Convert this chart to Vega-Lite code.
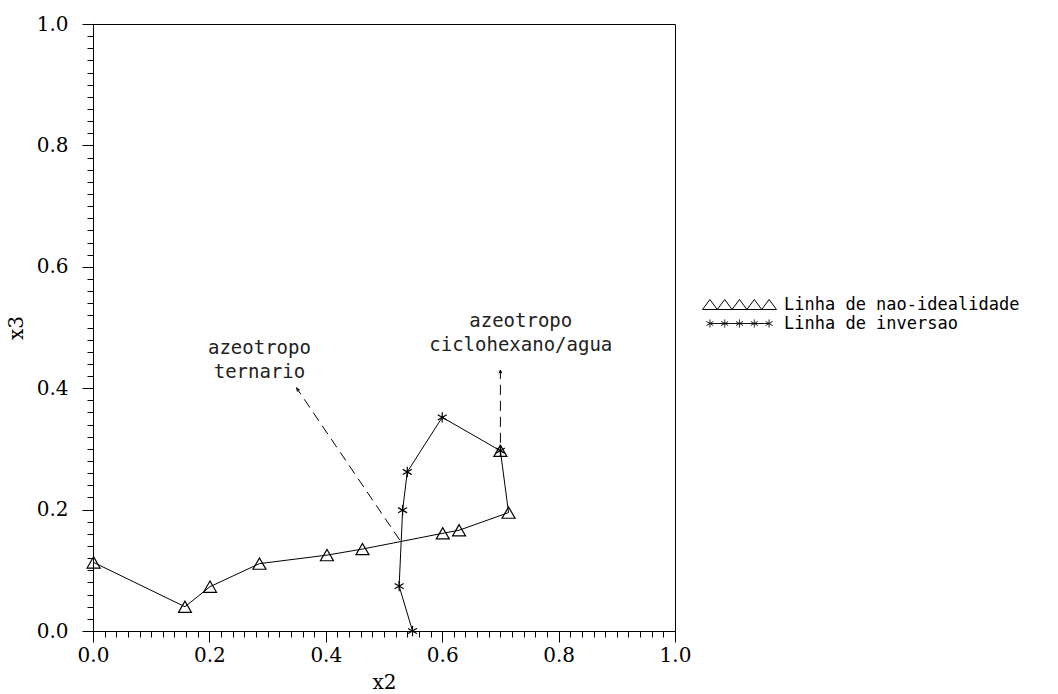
{
  "$schema": "https://vega.github.io/schema/vega-lite/v6.json",
  "width": 582,
  "height": 607,
  "autosize": {"type": "none"},
  "padding": {"left": 93, "top": 24, "right": 383, "bottom": 63},
  "background": "white",
  "datasets": {
    "curvas": [
      {"serie": "Linha de nao-idealidade", "ord": 1, "x2": 0.001, "x3": 0.113},
      {"serie": "Linha de nao-idealidade", "ord": 2, "x2": 0.158, "x3": 0.040},
      {"serie": "Linha de nao-idealidade", "ord": 3, "x2": 0.201, "x3": 0.073},
      {"serie": "Linha de nao-idealidade", "ord": 4, "x2": 0.286, "x3": 0.111},
      {"serie": "Linha de nao-idealidade", "ord": 5, "x2": 0.402, "x3": 0.125},
      {"serie": "Linha de nao-idealidade", "ord": 6, "x2": 0.463, "x3": 0.135},
      {"serie": "Linha de nao-idealidade", "ord": 7, "x2": 0.601, "x3": 0.161},
      {"serie": "Linha de nao-idealidade", "ord": 8, "x2": 0.629, "x3": 0.166},
      {"serie": "Linha de nao-idealidade", "ord": 9, "x2": 0.714, "x3": 0.195},
      {"serie": "Linha de nao-idealidade", "ord": 10, "x2": 0.700, "x3": 0.297},
      {"serie": "Linha de inversao", "ord": 1, "x2": 0.549, "x3": 0.000},
      {"serie": "Linha de inversao", "ord": 2, "x2": 0.526, "x3": 0.074},
      {"serie": "Linha de inversao", "ord": 3, "x2": 0.532, "x3": 0.199},
      {"serie": "Linha de inversao", "ord": 4, "x2": 0.540, "x3": 0.262},
      {"serie": "Linha de inversao", "ord": 5, "x2": 0.600, "x3": 0.352},
      {"serie": "Linha de inversao", "ord": 6, "x2": 0.700, "x3": 0.297}
    ],
    "setas": [
      {"id": "ternario", "xa": 0.527, "ya": 0.150, "xb": 0.350, "yb": 0.400},
      {"id": "ciclohexano", "xa": 0.700, "ya": 0.310, "xb": 0.700, "yb": 0.430}
    ],
    "notas": [
      {"x": 0.286, "y": 0.466, "texto": "azeotropo"},
      {"x": 0.286, "y": 0.427, "texto": "ternario"},
      {"x": 0.735, "y": 0.510, "texto": "azeotropo"},
      {"x": 0.735, "y": 0.471, "texto": "ciclohexano/agua"}
    ]
  },
  "encoding": {
    "x": {
      "field": "x2",
      "type": "quantitative",
      "scale": {"domain": [0, 1], "nice": false, "zero": false},
      "axis": {
        "title": "x2",
        "values": [0, 0.02, 0.04, 0.06, 0.08, 0.1, 0.12, 0.14, 0.16, 0.18, 0.2, 0.22, 0.24, 0.26, 0.28, 0.3, 0.32, 0.34, 0.36, 0.38, 0.4, 0.42, 0.44, 0.46, 0.48, 0.5, 0.52, 0.54, 0.56, 0.58, 0.6, 0.62, 0.64, 0.66, 0.68, 0.7, 0.72, 0.74, 0.76, 0.78, 0.8, 0.82, 0.84, 0.86, 0.88, 0.9, 0.92, 0.94, 0.96, 0.98, 1],
        "labelExpr": "abs(datum.value*5 - round(datum.value*5)) < 0.001 ? format(datum.value, '.1f') : ''",
        "tickSize": {"condition": {"test": "abs(datum.value*5 - round(datum.value*5)) < 0.001", "value": 11}, "value": 6},
        "labelPadding": 3,
        "titlePadding": 7
      }
    },
    "y": {
      "field": "x3",
      "type": "quantitative",
      "scale": {"domain": [0, 1], "nice": false, "zero": false},
      "axis": {
        "title": "x3",
        "values": [0, 0.02, 0.04, 0.06, 0.08, 0.1, 0.12, 0.14, 0.16, 0.18, 0.2, 0.22, 0.24, 0.26, 0.28, 0.3, 0.32, 0.34, 0.36, 0.38, 0.4, 0.42, 0.44, 0.46, 0.48, 0.5, 0.52, 0.54, 0.56, 0.58, 0.6, 0.62, 0.64, 0.66, 0.68, 0.7, 0.72, 0.74, 0.76, 0.78, 0.8, 0.82, 0.84, 0.86, 0.88, 0.9, 0.92, 0.94, 0.96, 0.98, 1],
        "labelExpr": "abs(datum.value*5 - round(datum.value*5)) < 0.001 ? format(datum.value, '.1f') : ''",
        "tickSize": {"condition": {"test": "abs(datum.value*5 - round(datum.value*5)) < 0.001", "value": 11}, "value": 6},
        "labelPadding": 14,
        "titlePadding": 10
      }
    }
  },
  "layer": [
    {
      "data": {"name": "curvas"},
      "mark": {"type": "line", "color": "black", "strokeWidth": 1},
      "encoding": {
        "detail": {"field": "serie"},
        "order": {"field": "ord", "type": "quantitative"}
      }
    },
    {
      "data": {"name": "curvas"},
      "transform": [{"filter": "datum.serie === 'Linha de nao-idealidade'"}],
      "mark": {"type": "point", "shape": "triangle-up", "filled": false, "strokeWidth": 1.2, "size": 169, "opacity": 1},
      "encoding": {
        "stroke": {
          "field": "serie",
          "type": "nominal",
          "scale": {"domain": ["Linha de nao-idealidade"], "range": ["black"]},
          "legend": {
            "title": null,
            "orient": "none",
            "legendX": 606,
            "legendY": 272,
            "labelFont": "DejaVu Sans Mono",
            "labelFontSize": 17,
            "labelColor": "black",
            "labelLimit": 500,
            "labelOffset": 68,
            "symbolSize": 100,
            "symbolStrokeWidth": 1,
            "symbolFillColor": "transparent",
            "symbolType": "M-1,1L0.48,-1L1.96,1L3.44,-1L4.92,1L6.4,-1L7.88,1L9.36,-1L10.84,1L12.32,-1L13.8,1Z"
          }
        }
      }
    },
    {
      "data": {"name": "curvas"},
      "transform": [{"filter": "datum.serie === 'Linha de inversao'"}],
      "mark": {"type": "point", "shape": "M0,-0.8L0,0.8M-0.69,-0.4L0.69,0.4M-0.69,0.4L0.69,-0.4", "filled": false, "color": "black", "strokeWidth": 1.2, "size": 169, "opacity": 1},
      "encoding": {
        "strokeDash": {
          "field": "serie",
          "type": "nominal",
          "scale": {"domain": ["Linha de inversao"], "range": [[1, 0]]},
          "legend": {
            "title": null,
            "orient": "none",
            "legendX": 606,
            "legendY": 291,
            "labelFont": "DejaVu Sans Mono",
            "labelFontSize": 17,
            "labelColor": "black",
            "labelLimit": 500,
            "labelOffset": 68,
            "symbolSize": 100,
            "symbolStrokeWidth": 1,
            "symbolStrokeColor": "black",
            "symbolFillColor": "transparent",
            "symbolType": "M0.48,0L12.32,0M0.48,-0.8L0.48,0.8M-0.21,-0.4L1.17,0.4M-0.21,0.4L1.17,-0.4M3.44,-0.8L3.44,0.8M2.75,-0.4L4.13,0.4M2.75,0.4L4.13,-0.4M6.4,-0.8L6.4,0.8M5.71,-0.4L7.09,0.4M5.71,0.4L7.09,-0.4M9.36,-0.8L9.36,0.8M8.67,-0.4L10.05,0.4M8.67,0.4L10.05,-0.4M12.32,-0.8L12.32,0.8M11.63,-0.4L13.01,0.4M11.63,0.4L13.01,-0.4"
          }
        }
      }
    },
    {
      "data": {"name": "setas"},
      "mark": {"type": "rule", "color": "black", "strokeWidth": 1, "strokeDash": [10, 6]},
      "encoding": {
        "x": {"field": "xa", "type": "quantitative"},
        "y": {"field": "ya", "type": "quantitative"},
        "x2": {"field": "xb"},
        "y2": {"field": "yb"}
      }
    },
    {
      "data": {"name": "setas"},
      "transform": [{"filter": "datum.id === 'ternario'"}],
      "mark": {"type": "point", "shape": "M-0.45,1.1L0,0L0.45,1.1", "filled": false, "color": "black", "strokeWidth": 1, "size": 36, "angle": -34, "opacity": 1},
      "encoding": {
        "x": {"field": "xb", "type": "quantitative"},
        "y": {"field": "yb", "type": "quantitative"}
      }
    },
    {
      "data": {"name": "setas"},
      "transform": [{"filter": "datum.id === 'ciclohexano'"}],
      "mark": {"type": "point", "shape": "M-0.45,1.1L0,0L0.45,1.1", "filled": false, "color": "black", "strokeWidth": 1, "size": 36, "angle": 0, "opacity": 1},
      "encoding": {
        "x": {"field": "xb", "type": "quantitative"},
        "y": {"field": "yb", "type": "quantitative"}
      }
    },
    {
      "data": {"name": "notas"},
      "mark": {"type": "text", "font": "DejaVu Sans Mono", "fontSize": 19, "color": "#222", "align": "center", "baseline": "middle"},
      "encoding": {
        "x": {"field": "x", "type": "quantitative"},
        "y": {"field": "y", "type": "quantitative"},
        "text": {"field": "texto"}
      }
    }
  ],
  "config": {
    "view": {"stroke": "black", "strokeWidth": 1},
    "axis": {
      "grid": false,
      "domainColor": "black",
      "domainWidth": 1,
      "tickColor": "black",
      "tickWidth": 1,
      "labelFont": "DejaVu Serif",
      "labelFontSize": 20,
      "labelColor": "black",
      "labelOverlap": false,
      "labelFlush": false,
      "labelBound": false,
      "titleFont": "DejaVu Serif",
      "titleFontSize": 20,
      "titleFontWeight": "normal",
      "titleColor": "black"
    }
  }
}
